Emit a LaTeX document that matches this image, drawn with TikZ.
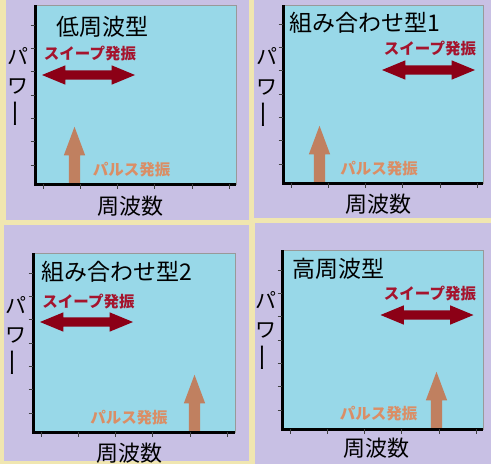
\documentclass[tikz,border=0pt]{standalone}
\usepackage{fontspec}
\newfontfamily\jp{Noto Sans CJK JP}
\usepackage{tikz}
\usetikzlibrary{shapes.arrows,positioning}
\definecolor{cream}{RGB}{240,230,176}
\definecolor{lavender}{RGB}{200,192,228}
\definecolor{plotblue}{RGB}{152,216,232}
\definecolor{sweepred}{RGB}{140,0,22}
\definecolor{sweeptext}{RGB}{165,20,45}
\definecolor{pulsebrown}{RGB}{192,128,96}
\definecolor{pulsetext}{RGB}{218,142,102}

\begin{document}
\begin{tikzpicture}[
    x=1pt, y=-1pt,
    font=\jp,
    panel/.style={
		fill=lavender
	},
    plotbox/.style={
		fill=plotblue,
		draw=gray!80,
		line width=0.6pt
	},
    axisline/.style={
		draw=black,
		line width=3pt
	},
    tickmark/.style={
		draw=black!75,
		line width=0.6pt
	},
    heading/.style={
		anchor=west,
		inner sep=0pt,
		font=\jp\fontsize{23}{23}\selectfont
	},
    sweep/.style={
		double arrow,
		fill=sweepred,
		inner sep=0pt,
		text height=9pt,
		text depth=0pt,
		minimum height=93pt,
		minimum width=19pt,
		double arrow head extend=5pt,
		double arrow tip angle=45
	},
    sweeplabel/.style={
		text=sweeptext,
		inner sep=0pt,
		font=\jp\bfseries\fontsize{15.5}{16}\selectfont
	},
    pulse/.style={
		single arrow,
		fill=pulsebrown,
		rotate=90,
		anchor=tail,
		inner sep=0pt,
		text height=11pt,
		text depth=0pt,
		minimum height=57pt,
		minimum width=21pt,
		single arrow head extend=5pt,
		single arrow tip angle=41
	},
    pulselabel/.style={
		text=pulsetext,
		inner sep=0pt,
		font=\jp\bfseries\fontsize{15.5}{16}\selectfont
	},
    xlabel/.style={
		inner sep=0pt,
		font=\jp\fontsize{22}{22}\selectfont
	},
    ylabel/.style={
		inner sep=0pt,
		font=\jp\fontsize{21}{21}\selectfont
	}
  ]
    % We start with the background and the four panels
  \useasboundingbox (0,0) rectangle (491,464);
  \fill [cream] (0,0) rectangle (491,464);
  \fill [panel] (6,0) rectangle (249,220);
  \fill [panel] (254,0) rectangle (491,218);
  \fill [panel] (4,225) rectangle (249,461);
  \fill [panel] (255,223) rectangle (491,464);

  % 低周波型
  \begin{scope}[shift={(35,184)}]
    \draw [plotbox] (0,0) rectangle (201,-179);
    \node [sweep] (lowsweep) at (53.5,-109) {};
    \node [pulse] (lowpulse) at (39.5,0) {};
    \draw [axisline] (0,-179) -- (0,0) -- (201,0);
    \foreach \t in {0,...,6} \draw [tickmark] (-4.5,{-19-23.33*\t}) -- (0,{-19-23.33*\t});
    \foreach \t in {0,...,5} \draw [tickmark] ({8+37.2*\t},0) -- ({8+37.2*\t},4.5);
    \node [heading] (lowtitle) at (21,-157) {低周波型};
    \node [sweeplabel] (lowsweeptext) at (55,-130) {スイープ発振};
    \node [pulselabel] (lowpulsetext) at (96.5,-14) {パルス発振};
    \node [xlabel] (lowx) at (95,22) {周波数};
    \node [ylabel] (lowpa) at (-16.5,-128) {パ};
    \node [ylabel] (lowwa) at (-16.5,-97.5) {ワ};
    \node [ylabel, rotate=90, xscale=1.4] (lowbar) at (-16.5,-70) {ー};
  \end{scope}

  % 組み合わせ型1
  \begin{scope}[shift={(283,183)}]
    \draw [plotbox] (0,0) rectangle (200,-178);
    \node [sweep] (mixAsweep) at (145.5,-113) {};
    \node [pulse] (mixApulse) at (36.5,0) {};
    \draw [axisline] (0,-178) -- (0,0) -- (200,0);
    \foreach \t in {0,...,6} \draw [tickmark] (-4.5,{-19-23.33*\t}) -- (0,{-19-23.33*\t});
    \foreach \t in {0,...,5} \draw [tickmark] ({8+37.2*\t},0) -- ({8+37.2*\t},4.5);
    \node [heading] (mixAtitle) at (6,-160.5) {組み合わせ型1};
    \node [sweeplabel] (mixAsweeptext) at (147,-134.5) {スイープ発振};
    \node [pulselabel] (mixApulsetext) at (96,-14) {パルス発振};
    \node [xlabel] (mixAx) at (95.5,21) {周波数};
    \node [ylabel] (mixApa) at (-16,-126.5) {パ};
    \node [ylabel] (mixAwa) at (-16,-96) {ワ};
    \node [ylabel, rotate=90, xscale=1.4] (mixAbar) at (-16,-68.5) {ー};
  \end{scope}

  % 組み合わせ型2
  \begin{scope}[shift={(33,432)}]
    \draw [plotbox] (0,0) rectangle (202,-179);
    \node [sweep] (mixBsweep) at (53.5,-110) {};
    \node [pulse] (mixBpulse) at (161.5,0) {};
    \draw [axisline] (0,-179) -- (0,0) -- (202,0);
    \foreach \t in {0,...,6} \draw [tickmark] (-4.5,{-19-23.33*\t}) -- (0,{-19-23.33*\t});
    \foreach \t in {0,...,5} \draw [tickmark] ({8+37.2*\t},0) -- ({8+37.2*\t},4.5);
    \node [heading] (mixBtitle) at (8,-160) {組み合わせ型2};
    \node [sweeplabel] (mixBsweeptext) at (55.5,-130.5) {スイープ発振};
    \node [pulselabel] (mixBpulsetext) at (96,-14) {パルス発振};
    \node [xlabel] (mixBx) at (96.5,21) {周波数};
    \node [ylabel] (mixBpa) at (-17,-127) {パ};
    \node [ylabel] (mixBwa) at (-17,-96.5) {ワ};
    \node [ylabel, rotate=90, xscale=1.4] (mixBbar) at (-17,-69) {ー};
  \end{scope}

  % 高周波型
  \begin{scope}[shift={(282,429)}]
    \draw [plotbox] (0,0) rectangle (201,-179);
    \node [sweep] (highsweep) at (145,-114) {};
    \node [pulse] (highpulse) at (154.5,0) {};
    \draw [axisline] (0,-179) -- (0,0) -- (201,0);
    \foreach \t in {0,...,6} \draw [tickmark] (-4.5,{-19-23.33*\t}) -- (0,{-19-23.33*\t});
    \foreach \t in {0,...,5} \draw [tickmark] ({8+37.2*\t},0) -- ({8+37.2*\t},4.5);
    \node [heading] (hightitle) at (10,-160) {高周波型};
    \node [sweeplabel] (highsweeptext) at (148,-135.5) {スイープ発振};
    \node [pulselabel] (highpulsetext) at (96.5,-15.5) {パルス発振};
    \node [xlabel] (highx) at (94.5,19) {周波数};
    \node [ylabel] (highpa) at (-16,-129) {パ};
    \node [ylabel] (highwa) at (-16,-98.5) {ワ};
    \node [ylabel, rotate=90, xscale=1.4] (highbar) at (-16,-71) {ー};
  \end{scope}

\end{tikzpicture}
\end{document}
